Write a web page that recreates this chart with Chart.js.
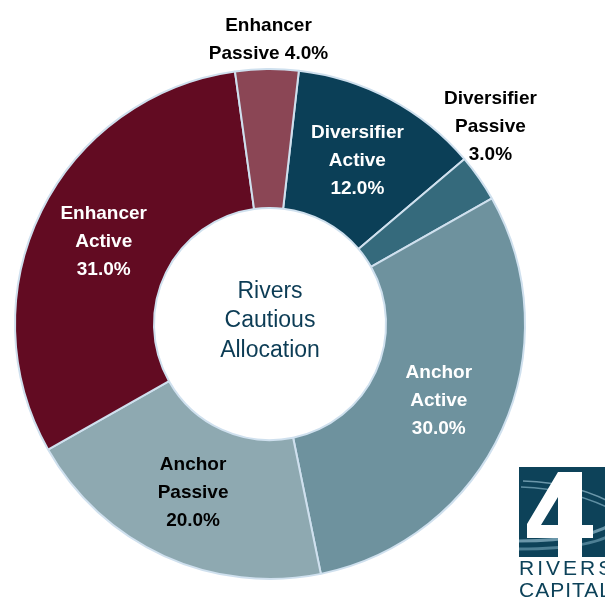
<!DOCTYPE html>
<html>
<head>
<meta charset="utf-8">
<script src="https://cdn.jsdelivr.net/npm/chart.js@4"></script>
<style>
  html, body { margin: 0; padding: 0; background: #ffffff; }
  #wrap { position: relative; width: 605px; height: 597px; overflow: hidden; }
  #c { position: absolute; left: 0; top: 0; }
  #logo { position: absolute; left: 519px; top: 467px; width: 100px; height: 140px; }
</style>
</head>
<body>
<div id="wrap">
  <canvas id="c" width="605" height="597"></canvas>
  <svg id="logo" width="100" height="140" viewBox="0 0 100 140">
    <rect x="0" y="0" width="100" height="90" fill="#0d4259"/>
    <path d="M4 14 Q60 16 100 40" stroke="#6b97aa" stroke-width="1.5" fill="none"/>
    <path d="M2 20 Q55 22 100 46" stroke="#5f8fa3" stroke-width="1.5" fill="none"/>
    <path d="M0 74 Q75 74 100 52" stroke="#6b97aa" stroke-width="3" fill="none"/>
    <path d="M0 82 Q80 82 100 62" stroke="#4d7f94" stroke-width="3" fill="none"/>
    <path d="M39 5 L63 5 L63 58 L74 58 L74 71 L63 71 L63 90 L39 90 L39 71 L8 71 L8 57 Z M39 30 L39 58 L22 58 Z" fill="#ffffff" fill-rule="evenodd"/>
    <text x="0" y="108" font-family="Liberation Sans, Arial, sans-serif" font-size="21" fill="#0d4259" letter-spacing="3">RIVERS</text>
    <text x="0" y="130" font-family="Liberation Sans, Arial, sans-serif" font-size="21" fill="#0d4259" letter-spacing="1">CAPITAL</text>
  </svg>
</div>
<script>
// ---- data ----
const categories = ["Diversifier Active", "Diversifier Passive", "Anchor Active", "Anchor Passive", "Enhancer Active", "Enhancer Passive"];
const labelLines = [["Diversifier", "Active", "12.0%"], ["Diversifier", "Passive", "3.0%"], ["Anchor", "Active", "30.0%"], ["Anchor", "Passive", "20.0%"], ["Enhancer", "Active", "31.0%"], ["Enhancer", "Passive 4.0%"]];
const values = [12, 3, 30, 20, 31, 4];
const centerTitle = ["Rivers", "Cautious", "Allocation"];

const colors = ["#0b3f57", "#356a7c", "#6e929e", "#8ea9b1", "#620b22", "#8b4655"];
const labelColors = ["#ffffff", "#000000", "#ffffff", "#000000", "#ffffff", "#000000"];
// placement: inside ring, or outside with a pixel offset
const placement = [
  { mode: "inside" },
  { mode: "outside", dx: -15, dy: -33 },
  { mode: "inside" },
  { mode: "inside" },
  { mode: "inside" },
  { mode: "outside", dx: 2, dy: 3 }
];

const labelPlugin = {
  id: "sliceLabels",
  afterDatasetsDraw(chart) {
    const ctx = chart.ctx;
    const meta = chart.getDatasetMeta(0);
    ctx.save();
    ctx.font = "bold 19px 'Liberation Sans', Arial, sans-serif";
    ctx.textAlign = "center";
    ctx.textBaseline = "middle";
    const lh = 28;
    meta.data.forEach((arc, i) => {
      const p = arc.getProps(["x", "y", "startAngle", "endAngle", "innerRadius", "outerRadius"], true);
      const mid = (p.startAngle + p.endAngle) / 2;
      const lines = labelLines[i];
      let cx, cy;
      if (placement[i].mode === "inside") {
        const r = (p.innerRadius + p.outerRadius) / 2;
        cx = p.x + Math.cos(mid) * r;
        cy = p.y + Math.sin(mid) * r;
      } else {
        const r = p.outerRadius + 32;
        cx = p.x + Math.cos(mid) * r + placement[i].dx;
        cy = p.y + Math.sin(mid) * r + placement[i].dy;
      }
      ctx.fillStyle = labelColors[i];
      const n = lines.length;
      lines.forEach((t, k) => {
        ctx.fillText(t, cx, cy + (k - (n - 1) / 2) * lh);
      });
    });
    // center title
    const a = meta.data[0];
    ctx.fillStyle = "#0c3c55";
    ctx.font = "23px 'Liberation Sans', Arial, sans-serif";
    centerTitle.forEach((t, k) => {
      ctx.fillText(t, a.x, a.y + (k - 1) * 29.5 - 3);
    });
    ctx.restore();
  }
};

new Chart(document.getElementById("c"), {
  type: "doughnut",
  data: {
    labels: categories,
    datasets: [{
      data: values,
      backgroundColor: colors,
      borderColor: "#cfe0ee",
      borderWidth: 2,
      hoverOffset: 0
    }]
  },
  options: {
    responsive: false,
    animation: false,
    rotation: 6.5,
    cutout: "45.5%",
    layout: { padding: { left: 14, right: 79, top: 67, bottom: 16 } },
    plugins: {
      legend: { display: false },
      tooltip: { enabled: false }
    }
  },
  plugins: [labelPlugin]
});
</script>
</body>
</html>
